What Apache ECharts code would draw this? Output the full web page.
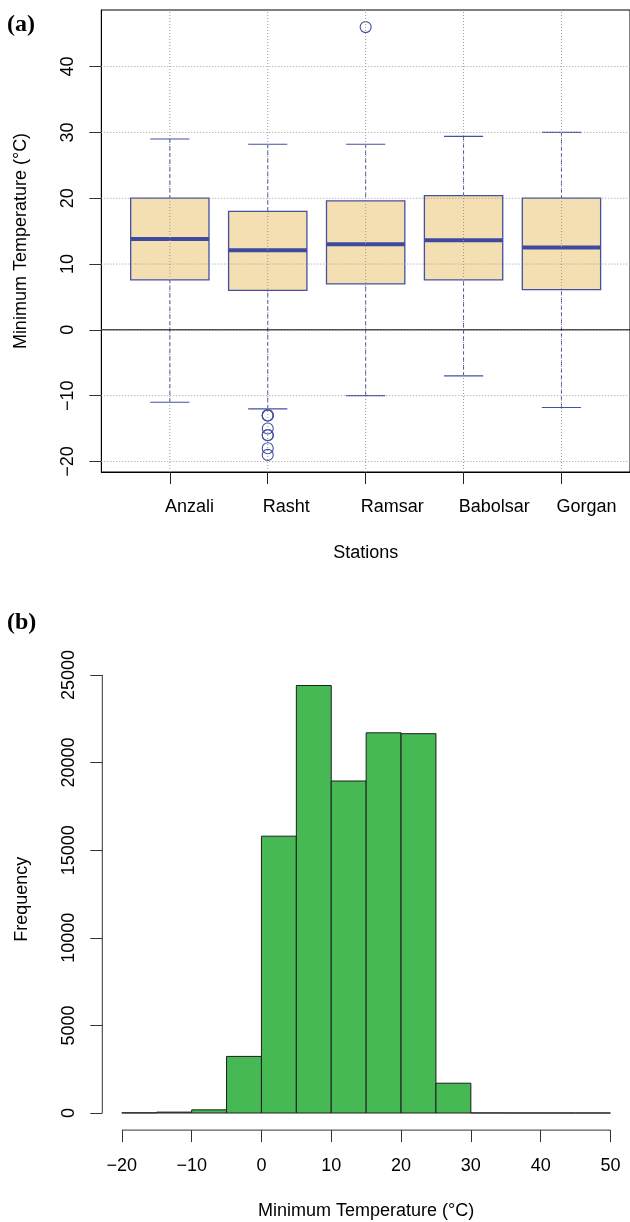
<!DOCTYPE html>
<html>
<head>
<meta charset="utf-8">
<script src="https://cdn.jsdelivr.net/npm/echarts@6/dist/echarts.min.js"></script>
<style>
html,body{margin:0;padding:0;background:#fff;}
#chart{width:630px;height:1222px;}
</style>
</head>
<body>
<div id="chart"></div>
<script>
// ---- Panel (a): box plot data ----
const stations = ['Anzali', 'Rasht', 'Ramsar', 'Babolsar', 'Gorgan'];
const whiskerLow = [-11.0, -12.0, -10.0, -7.0, -11.8];
const quart1 = [7.6, 6.0, 7.0, 7.6, 6.1];
const medians = [13.8, 12.1, 13.0, 13.6, 12.5];
const quart3 = [20.0, 18.0, 19.6, 20.4, 20.0];
const whiskerHigh = [29.0, 28.2, 28.2, 29.4, 30.0];
const outlierStation = ['Rasht', 'Rasht', 'Rasht', 'Rasht', 'Rasht', 'Rasht', 'Rasht', 'Rasht', 'Ramsar'];
const outlierValue = [-13, -13, -13, -15, -16, -16, -18, -19, 46];
const yTicksA = [-20, -10, 0, 10, 20, 30, 40];

// ---- Panel (b): histogram data ----
const histBreaks = [-20, -15, -10, -5, 0, 5, 10, 15, 20, 25, 30, 35, 40, 45, 50];
const histCounts = [10, 50, 180, 3230, 15800, 24400, 18950, 21700, 21650, 1700, 6, 2, 1, 1];
const xTicksB = [-20, -10, 0, 10, 20, 30, 40, 50];
const yTicksB = [0, 5000, 10000, 15000, 20000, 25000];

const FONT = 'Liberation Sans, Arial, Helvetica, sans-serif';
const FS = 18;
const minus = v => String(v).replace('-', '\u2212');
const BLUE = '#4450a2';

const xMinA = 0.3, xMaxA = 5.7, yMinA = -21.6, yMaxA = 48.6;
const xMinB = -22.8, xMaxB = 52.8, yMinB = -976, yMaxB = 25376;

const stationPos = stations.map((s, i) => i + 1);
// the station names in the source start slightly left of their tick
const labelPos = stationPos.map(p => p - 0.05);

const boxData = stations.map((s, i) => [stationPos[i], whiskerLow[i], quart1[i], medians[i], quart3[i], whiskerHigh[i]]);
const outlierData = outlierValue.map((v, k) => [stationPos[stations.indexOf(outlierStation[k])], v]);
const histData = histCounts.map((c, i) => [histBreaks[i], histBreaks[i + 1], c]);

const chart = echarts.init(document.getElementById('chart'), null, {renderer: 'canvas'});

const option = {
  animation: false,
  backgroundColor: '#fff',
  textStyle: {fontFamily: FONT},
  graphic: [
    {type: 'text', left: 7, top: 13, style: {text: '(a)', font: 'bold 24px "Liberation Serif", "Times New Roman", serif', fill: '#000'}},
    {type: 'text', left: 7, top: 611, style: {text: '(b)', font: 'bold 24px "Liberation Serif", "Times New Roman", serif', fill: '#000'}}
  ],
  grid: [
    {left: 101.3, right: -3.25, top: 10, bottom: 1222 - 472, show: true, borderColor: '#000', borderWidth: 1, backgroundColor: 'transparent', containLabel: false},
    {left: 102.3, right: -3.7, top: 668.4, bottom: 1222 - 1130.1, show: false, containLabel: false}
  ],
  xAxis: [
    {
      type: 'value', gridIndex: 0, min: xMinA, max: xMaxA,
      axisLine: {show: true, onZero: false, lineStyle: {color: '#000', width: 1}},
      axisTick: {show: true, length: 12, customValues: stationPos, lineStyle: {color: '#222'}},
      axisLabel: {show: true, customValues: labelPos, formatter: v => stations[Math.round(v) - 1], align: 'left',
        margin: 26, fontSize: FS, color: '#000', fontFamily: FONT},
      splitLine: {show: false},
      name: 'Stations', nameLocation: 'middle', nameGap: 72,
      nameTextStyle: {fontSize: FS, color: '#000', fontFamily: FONT}
    },
    {
      type: 'value', gridIndex: 1, min: xMinB, max: xMaxB,
      axisLine: {show: false, onZero: false},
      axisTick: {show: true, length: 12, customValues: xTicksB, lineStyle: {color: '#333'}},
      axisLabel: {show: true, customValues: xTicksB, formatter: minus, margin: 27, fontSize: FS, color: '#000', fontFamily: FONT},
      splitLine: {show: false},
      name: 'Minimum Temperature (\u00B0C)', nameLocation: 'middle', nameGap: 72,
      nameTextStyle: {fontSize: FS, color: '#000', fontFamily: FONT}
    }
  ],
  yAxis: [
    {
      type: 'value', gridIndex: 0, min: yMinA, max: yMaxA,
      axisLine: {show: true, onZero: false, lineStyle: {color: '#000', width: 1}},
      axisTick: {show: true, length: 12, customValues: yTicksA, lineStyle: {color: '#333'}},
      axisLabel: {show: true, customValues: yTicksA, formatter: minus, rotate: 90, margin: 24, fontSize: FS, color: '#000', fontFamily: FONT},
      splitLine: {show: false},
      name: 'Minimum Temperature (\u00B0C)', nameLocation: 'middle', nameGap: 71,
      nameTextStyle: {fontSize: FS, color: '#000', fontFamily: FONT}
    },
    {
      type: 'value', gridIndex: 1, min: yMinB, max: yMaxB,
      axisLine: {show: false, onZero: false},
      axisTick: {show: true, length: 12, customValues: yTicksB, lineStyle: {color: '#333'}},
      axisLabel: {show: true, customValues: yTicksB, formatter: v => String(v), rotate: 90, margin: 24, fontSize: FS, color: '#000', fontFamily: FONT},
      splitLine: {show: false},
      name: 'Frequency', nameLocation: 'middle', nameGap: 71,
      nameTextStyle: {fontSize: FS, color: '#000', fontFamily: FONT}
    }
  ],
  series: [
    {
      type: 'custom', xAxisIndex: 0, yAxisIndex: 0, z: 2, silent: true, clip: false,
      encode: {x: 0, y: [1, 2, 3, 4, 5]},
      data: boxData,
      renderItem: function (params, api) {
        const i = api.value(0);
        const pLo = api.coord([i, api.value(1)]);
        const pQ1 = api.coord([i, api.value(2)]);
        const pMed = api.coord([i, api.value(3)]);
        const pQ3 = api.coord([i, api.value(4)]);
        const pHi = api.coord([i, api.value(5)]);
        const hw = api.size([0.4, 0])[0];
        const sw = api.size([0.2, 0])[0];
        return {
          type: 'group',
          children: [
            {type: 'line', shape: {x1: pHi[0], y1: pHi[1], x2: pQ3[0], y2: pQ3[1]}, style: {stroke: BLUE, lineWidth: 1, lineDash: [4, 3]}},
            {type: 'line', shape: {x1: pLo[0], y1: pLo[1], x2: pQ1[0], y2: pQ1[1]}, style: {stroke: BLUE, lineWidth: 1, lineDash: [4, 3]}},
            {type: 'line', shape: {x1: pHi[0] - sw, y1: pHi[1], x2: pHi[0] + sw, y2: pHi[1]}, style: {stroke: BLUE, lineWidth: 1.2}},
            {type: 'line', shape: {x1: pLo[0] - sw, y1: pLo[1], x2: pLo[0] + sw, y2: pLo[1]}, style: {stroke: BLUE, lineWidth: 1.2}},
            {type: 'rect', shape: {x: pQ3[0] - hw, y: pQ3[1], width: 2 * hw, height: pQ1[1] - pQ3[1]}, style: {fill: '#f4dfb2', stroke: BLUE, lineWidth: 1.3}},
            {type: 'line', shape: {x1: pMed[0] - hw, y1: pMed[1], x2: pMed[0] + hw, y2: pMed[1]}, style: {stroke: '#3d4aa0', lineWidth: 4}}
          ]
        };
      }
    },
    {
      type: 'scatter', xAxisIndex: 0, yAxisIndex: 0, z: 3, silent: true,
      symbol: 'circle', symbolSize: 11,
      itemStyle: {color: 'rgba(0,0,0,0)', borderColor: BLUE, borderWidth: 1.1, opacity: 1},
      data: outlierData
    },
    {
      type: 'custom', xAxisIndex: 0, yAxisIndex: 0, z: 4, silent: true, clip: false,
      encode: {y: 0},
      data: yTicksA.map(v => [v]),
      renderItem: function (params, api) {
        const v = api.value(0);
        const a = api.coord([xMinA, v]), b = api.coord([xMaxA, v]);
        return {type: 'line', shape: {x1: a[0], y1: a[1], x2: b[0], y2: b[1]}, style: {stroke: '#999', lineWidth: 1, lineDash: [1, 2]}};
      }
    },
    {
      type: 'custom', xAxisIndex: 0, yAxisIndex: 0, z: 4, silent: true, clip: false,
      encode: {x: 0},
      data: stationPos.map(p => [p]),
      renderItem: function (params, api) {
        const v = api.value(0);
        const a = api.coord([v, yMinA]), b = api.coord([v, yMaxA]);
        return {type: 'line', shape: {x1: a[0], y1: a[1], x2: b[0], y2: b[1]}, style: {stroke: '#999', lineWidth: 1, lineDash: [1, 2]}};
      }
    },
    {
      type: 'custom', xAxisIndex: 0, yAxisIndex: 0, z: 5, silent: true, clip: false,
      encode: {y: 0},
      data: [[0]],
      renderItem: function (params, api) {
        const v = api.value(0);
        const a = api.coord([xMinA, v]), b = api.coord([xMaxA, v]);
        return {type: 'line', shape: {x1: a[0], y1: a[1], x2: b[0], y2: b[1]}, style: {stroke: '#000', lineWidth: 1}};
      }
    },
    {
      type: 'custom', xAxisIndex: 1, yAxisIndex: 1, z: 2, silent: true, clip: false,
      encode: {x: [0, 1], y: 2},
      data: histData,
      renderItem: function (params, api) {
        const p0 = api.coord([api.value(0), api.value(2)]);
        const p1 = api.coord([api.value(1), 0]);
        return {type: 'rect', shape: {x: p0[0], y: p0[1], width: p1[0] - p0[0], height: p1[1] - p0[1]},
          style: {fill: '#46b955', stroke: '#1e1e1e', lineWidth: 1}};
      }
    },
    {
      type: 'custom', xAxisIndex: 1, yAxisIndex: 1, z: 3, silent: true, clip: false,
      encode: {x: 0, y: 1},
      data: [[xTicksB[0], yMinB, xTicksB[xTicksB.length - 1], yMinB], [xMinB, yTicksB[0], xMinB, yTicksB[yTicksB.length - 1]]],
      renderItem: function (params, api) {
        const a = api.coord([api.value(0), api.value(1)]);
        const b = api.coord([api.value(2), api.value(3)]);
        return {type: 'line', shape: {x1: a[0], y1: a[1], x2: b[0], y2: b[1]}, style: {stroke: '#333', lineWidth: 1}};
      }
    }
  ]
};
chart.setOption(option);
</script>
</body>
</html>
